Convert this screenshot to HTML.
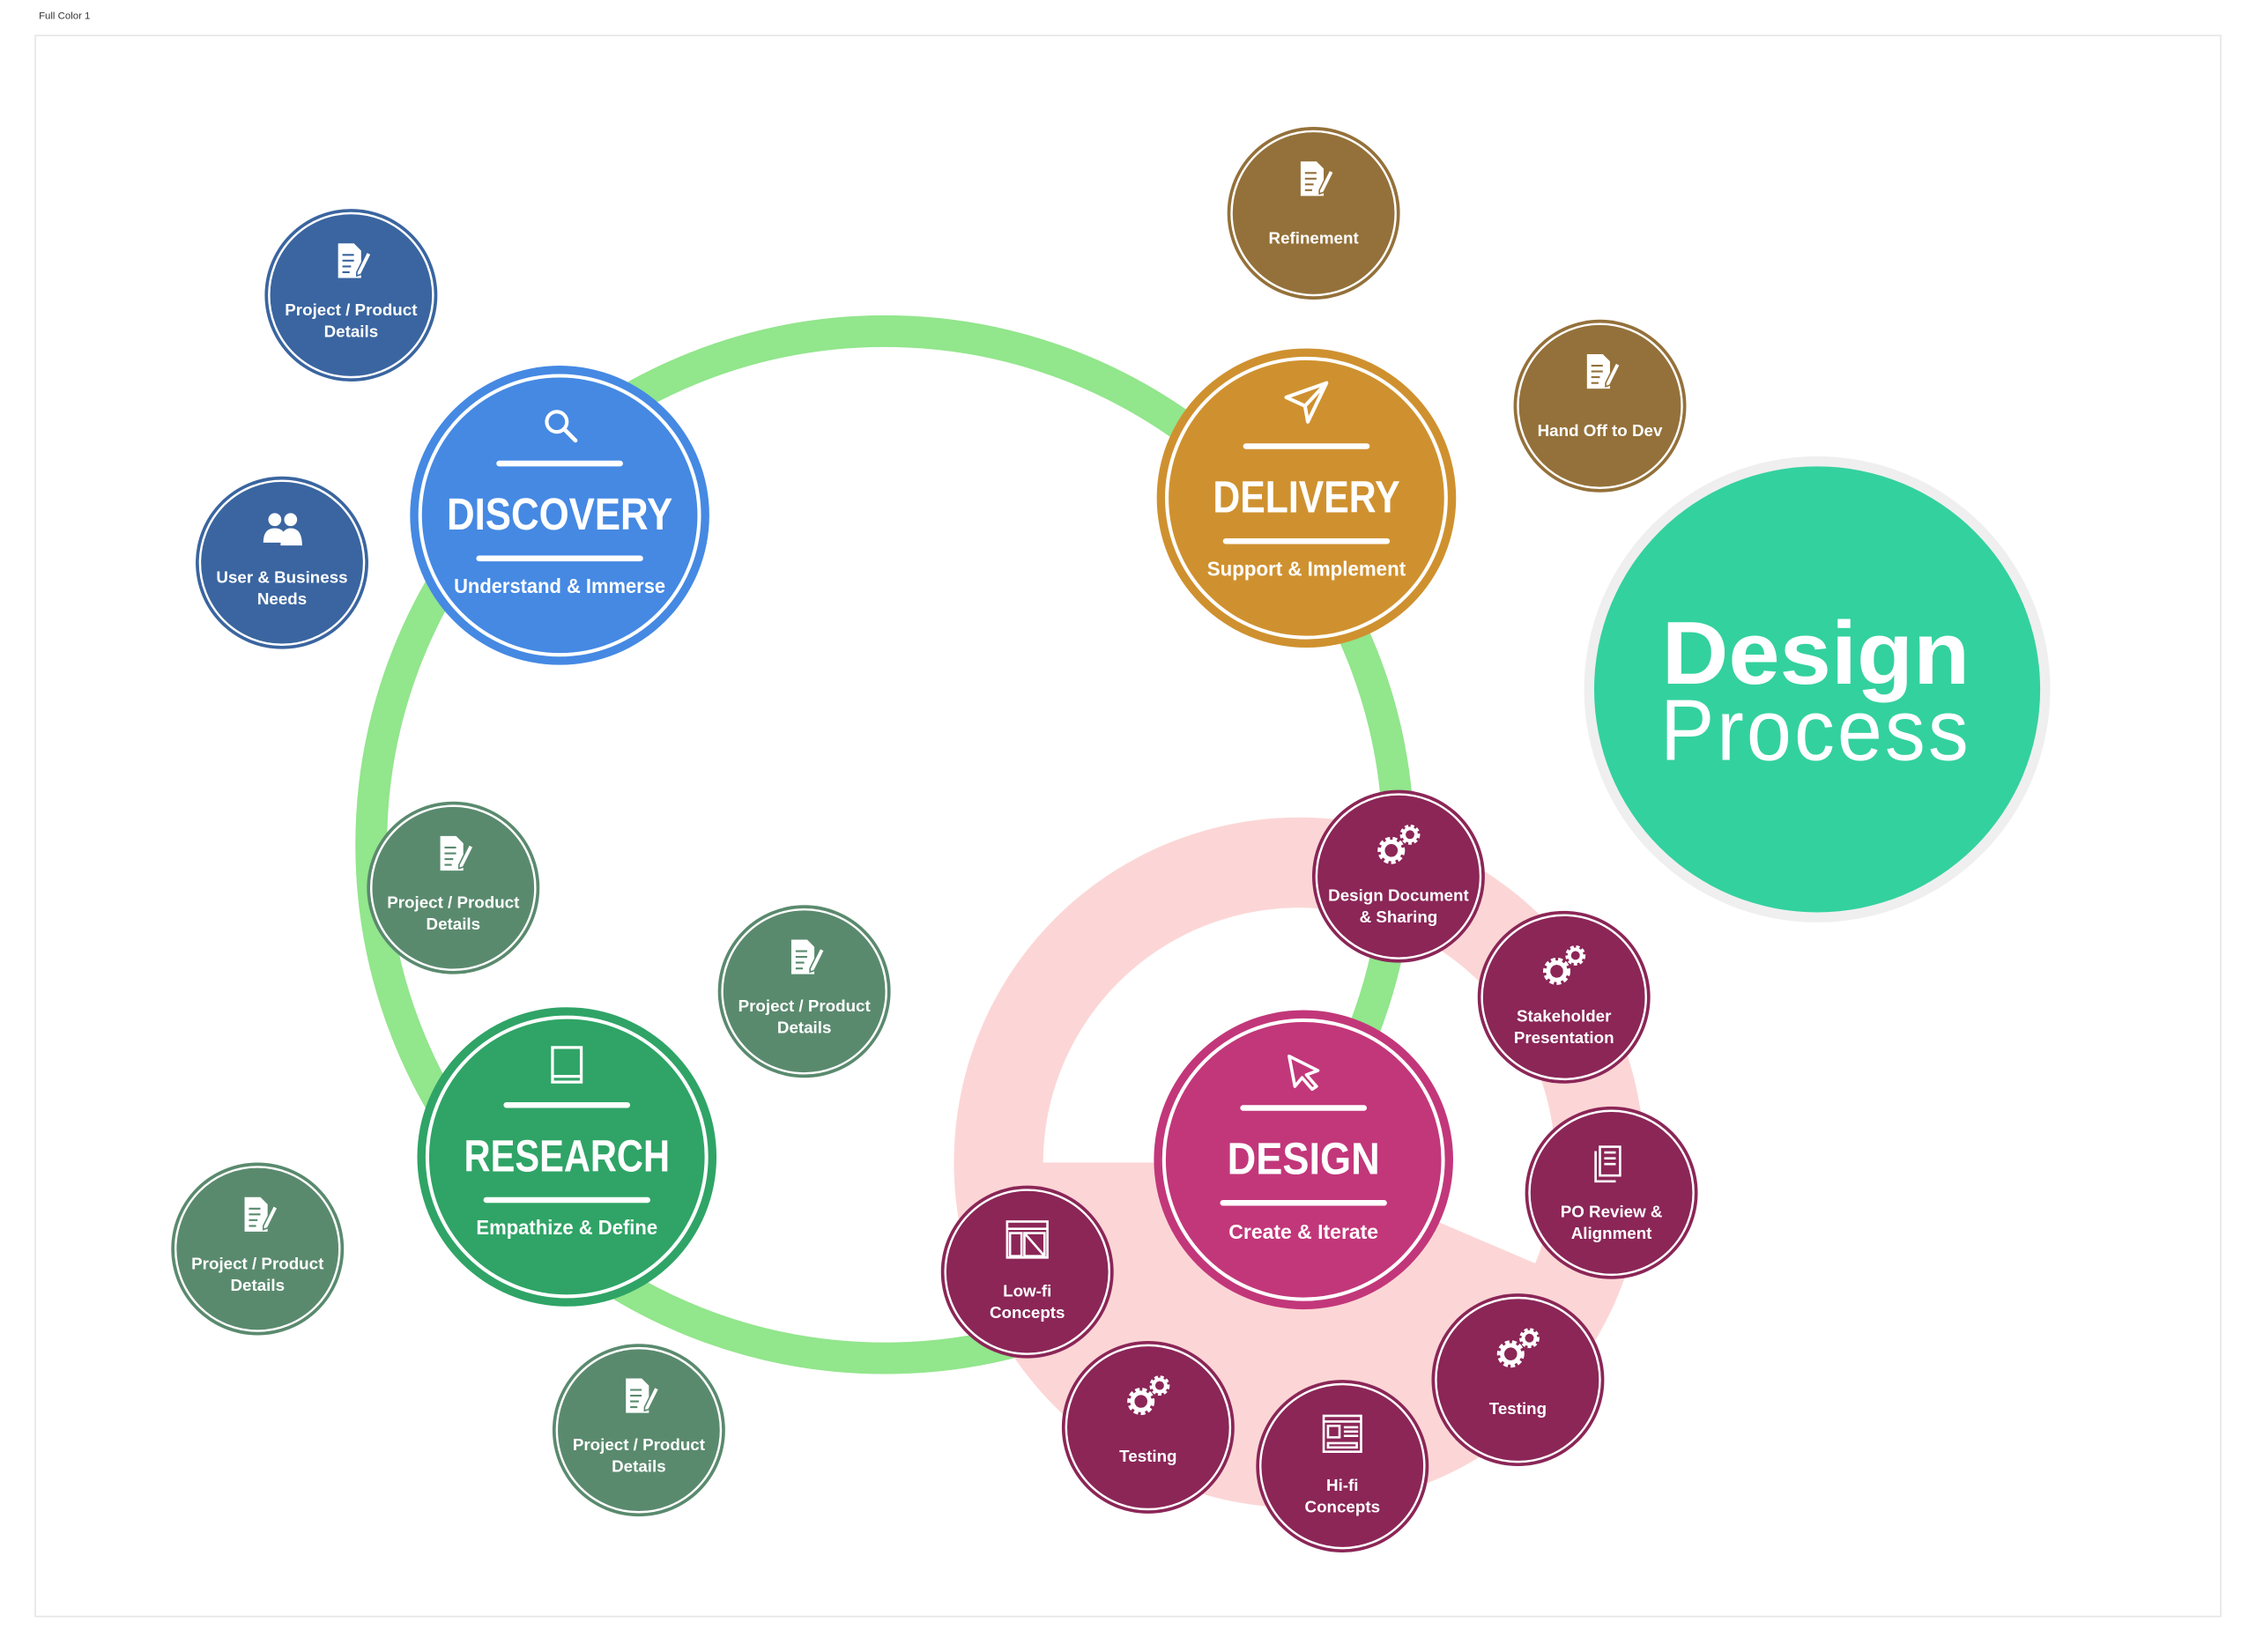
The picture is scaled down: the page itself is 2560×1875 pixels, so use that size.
<!DOCTYPE html>
<html><head><meta charset="utf-8"><style>
html,body{margin:0;padding:0;background:#fff;}
svg{display:block;}
text{font-family:"Liberation Sans",sans-serif;fill:#fff;}
</style></head><body>
<svg width="2560" height="1875" viewBox="0 0 1568 1148" xmlns="http://www.w3.org/2000/svg">
<defs>
<g id="doc"><path d="M-9,-12 h11 l5,5 v19 h-16 z" fill="#fff"/><path d="M-6,-4h8M-6,0h8M-6,4h6M-6,8h5" stroke="currentColor" stroke-width="1.3"/><path d="M4,8 l7,-14 l3,1.5 l-7,14 l-3,1 z" fill="#fff" stroke="currentColor" stroke-width="1"/></g>
<g id="gears"><circle cx="-5" cy="4" r="7" fill="none" stroke="#fff" stroke-width="5" stroke-dasharray="2.6 1.6"/><circle cx="-5" cy="4" r="6" fill="none" stroke="#fff" stroke-width="3"/><circle cx="8" cy="-7" r="5" fill="none" stroke="#fff" stroke-width="4" stroke-dasharray="2 1.4"/><circle cx="8" cy="-7" r="4.3" fill="none" stroke="#fff" stroke-width="2.4"/></g>
<mask id="pm" maskUnits="userSpaceOnUse" x="0" y="0" width="1568" height="1148">
<rect width="1568" height="1148" fill="#fff"/>
<path d="M903,808 L725,808 A178,178 0 1 1 1067,878 Z" fill="#000"/>
</mask>
</defs>
<text x="27" y="13" font-size="7" style="fill:#333">Full Color 1</text>
<rect x="24.5" y="24.5" width="1519" height="1099" fill="none" stroke="#e6e6e6" stroke-width="1"/>

<!-- green ring -->
<circle cx="615" cy="587" r="357" fill="none" stroke="#92e68c" stroke-width="22"/>
<!-- pink pie -->
<circle cx="903" cy="808" r="240" fill="#fcd6d6" mask="url(#pm)"/>

<!-- Design Process -->
<circle cx="1263" cy="479" r="162" fill="#efefef"/>
<circle cx="1263" cy="479" r="155" fill="#33d19e"/>
<text x="1262" y="475" font-size="62" font-weight="bold" text-anchor="middle" textLength="214" lengthAdjust="spacingAndGlyphs">Design</text>
<text x="1262" y="528" font-size="60" text-anchor="middle" textLength="216" lengthAdjust="spacingAndGlyphs" letter-spacing="2">Process</text>

<!-- big circles -->
<g transform="translate(389,358)">
<circle r="104" fill="#4589e3"/><circle r="97" fill="none" stroke="#fff" stroke-width="2.5"/>
<circle cx="-2" cy="-65" r="7" fill="none" stroke="#fff" stroke-width="2.5"/><path d="M3,-60 l8,8" stroke="#fff" stroke-width="2.8" stroke-linecap="round"/>
<path d="M-42,-36h84M-56,30h112" stroke="#fff" stroke-width="4" stroke-linecap="round"/>
<text y="10" font-size="31" font-weight="bold" text-anchor="middle" textLength="157" lengthAdjust="spacingAndGlyphs">DISCOVERY</text>
<text y="54" font-size="14" font-weight="bold" text-anchor="middle" textLength="147" lengthAdjust="spacingAndGlyphs">Understand &amp; Immerse</text>
</g>
<g transform="translate(908,346)">
<circle r="104" fill="#cf912f"/><circle r="97" fill="none" stroke="#fff" stroke-width="2.5"/>
<path d="M-14,-70 L14,-80 L1,-53 L-1,-64 Z M-1,-64 L14,-80" fill="none" stroke="#fff" stroke-width="2.5" stroke-linejoin="round"/>
<path d="M-42,-36h84M-56,30h112" stroke="#fff" stroke-width="4" stroke-linecap="round"/>
<text y="10" font-size="31" font-weight="bold" text-anchor="middle" textLength="130" lengthAdjust="spacingAndGlyphs">DELIVERY</text>
<text y="54" font-size="14" font-weight="bold" text-anchor="middle" textLength="138" lengthAdjust="spacingAndGlyphs">Support &amp; Implement</text>
</g>
<g transform="translate(394,804)">
<circle r="104" fill="#2fa466"/><circle r="97" fill="none" stroke="#fff" stroke-width="2.5"/>
<path d="M-10,-76 h20 v24 h-20 z M-10,-56 h20" fill="none" stroke="#fff" stroke-width="2"/>
<path d="M-42,-36h84M-56,30h112" stroke="#fff" stroke-width="4" stroke-linecap="round"/>
<text y="10" font-size="31" font-weight="bold" text-anchor="middle" textLength="143" lengthAdjust="spacingAndGlyphs">RESEARCH</text>
<text y="54" font-size="14" font-weight="bold" text-anchor="middle" textLength="126" lengthAdjust="spacingAndGlyphs">Empathize &amp; Define</text>
</g>
<g transform="translate(906,806)">
<circle r="104" fill="#c2377a"/><circle r="97" fill="none" stroke="#fff" stroke-width="2.5"/>
<path d="M-10,-72 L10,-62 L2,-59 L9,-51 L6,-49 L-1,-57 L-6,-51 Z" fill="none" stroke="#fff" stroke-width="2.2" stroke-linejoin="round"/>
<path d="M-42,-36h84M-56,30h112" stroke="#fff" stroke-width="4" stroke-linecap="round"/>
<text y="10" font-size="31" font-weight="bold" text-anchor="middle" textLength="106" lengthAdjust="spacingAndGlyphs">DESIGN</text>
<text y="55" font-size="14" font-weight="bold" text-anchor="middle" textLength="104" lengthAdjust="spacingAndGlyphs">Create &amp; Iterate</text>
</g>

<!-- small circles -->
<g font-size="11.5" font-weight="bold" text-anchor="middle">
<g transform="translate(244,205)" color="#3a65a0"><circle r="60" fill="#3a65a0"/><circle r="57" fill="none" stroke="#fff" stroke-width="1.5"/><use href="#doc" y="-24"/><text y="14">Project / Product</text><text y="29">Details</text></g>
<g transform="translate(196,391)" color="#3a65a0"><circle r="60" fill="#3a65a0"/><circle r="57" fill="none" stroke="#fff" stroke-width="1.5"/>
<circle cx="-5" cy="-30" r="4.5" fill="#fff"/><circle cx="6" cy="-30" r="4.5" fill="#fff"/><path d="M-13,-14 q0,-10 8,-10 q8,0 8,10z M-1,-12 q0,-12 7,-12 q8,0 8,12z" fill="#fff"/>
<text y="14">User &amp; Business</text><text y="29">Needs</text></g>
<g transform="translate(913,148)" color="#94713a"><circle r="60" fill="#94713a"/><circle r="57" fill="none" stroke="#fff" stroke-width="1.5"/><use href="#doc" y="-24"/><text y="21">Refinement</text></g>
<g transform="translate(1112,282)" color="#94713a"><circle r="60" fill="#94713a"/><circle r="57" fill="none" stroke="#fff" stroke-width="1.5"/><use href="#doc" y="-24"/><text y="21">Hand Off to Dev</text></g>
<g transform="translate(315,617)" color="#5a8a6e"><circle r="60" fill="#5a8a6e"/><circle r="57" fill="none" stroke="#fff" stroke-width="1.5"/><use href="#doc" y="-24"/><text y="14">Project / Product</text><text y="29">Details</text></g>
<g transform="translate(559,689)" color="#5a8a6e"><circle r="60" fill="#5a8a6e"/><circle r="57" fill="none" stroke="#fff" stroke-width="1.5"/><use href="#doc" y="-24"/><text y="14">Project / Product</text><text y="29">Details</text></g>
<g transform="translate(179,868)" color="#5a8a6e"><circle r="60" fill="#5a8a6e"/><circle r="57" fill="none" stroke="#fff" stroke-width="1.5"/><use href="#doc" y="-24"/><text y="14">Project / Product</text><text y="29">Details</text></g>
<g transform="translate(444,994)" color="#5a8a6e"><circle r="60" fill="#5a8a6e"/><circle r="57" fill="none" stroke="#fff" stroke-width="1.5"/><use href="#doc" y="-24"/><text y="14">Project / Product</text><text y="29">Details</text></g>
<g transform="translate(972,609)"><circle r="60" fill="#8b2657"/><circle r="57" fill="none" stroke="#fff" stroke-width="1.5"/><use href="#gears" y="-22"/><text y="17">Design Document</text><text y="32">&amp; Sharing</text></g>
<g transform="translate(1087,693)"><circle r="60" fill="#8b2657"/><circle r="57" fill="none" stroke="#fff" stroke-width="1.5"/><use href="#gears" y="-22"/><text y="17">Stakeholder</text><text y="32">Presentation</text></g>
<g transform="translate(1120,829)"><circle r="60" fill="#8b2657"/><circle r="57" fill="none" stroke="#fff" stroke-width="1.5"/><path d="M-8,-32 h14 v20 h-14 z M-5,-28 h8 M-5,-24h8 M-5,-20h8 M-11,-29 v21 h14" fill="none" stroke="#fff" stroke-width="1.6"/><text y="17">PO Review &amp;</text><text y="32">Alignment</text></g>
<g transform="translate(1055,959)"><circle r="60" fill="#8b2657"/><circle r="57" fill="none" stroke="#fff" stroke-width="1.5"/><use href="#gears" y="-22"/><text y="24">Testing</text></g>
<g transform="translate(714,884)"><circle r="60" fill="#8b2657"/><circle r="57" fill="none" stroke="#fff" stroke-width="1.5"/><path d="M-14,-35 h28 v25 h-28 z M-14,-30 h28 M-12,-27 h8 v16 h-8z M-2,-27 h14 v16 h-14 z M-2,-27 l14,16" fill="none" stroke="#fff" stroke-width="1.6"/><text y="17">Low-fi</text><text y="32">Concepts</text></g>
<g transform="translate(798,992)"><circle r="60" fill="#8b2657"/><circle r="57" fill="none" stroke="#fff" stroke-width="1.5"/><use href="#gears" y="-22"/><text y="24">Testing</text></g>
<g transform="translate(933,1019)"><circle r="60" fill="#8b2657"/><circle r="57" fill="none" stroke="#fff" stroke-width="1.5"/><path d="M-13,-35 h26 v25 h-26 z M-13,-31 h26 M-10,-28 h8 v8 h-8z M1,-27 h10 M1,-24 h10 M1,-21h10 M-10,-16 h20 v3 h-20z" fill="none" stroke="#fff" stroke-width="1.6"/><text y="17">Hi-fi</text><text y="32">Concepts</text></g>
</g>
</svg>
</body></html>
